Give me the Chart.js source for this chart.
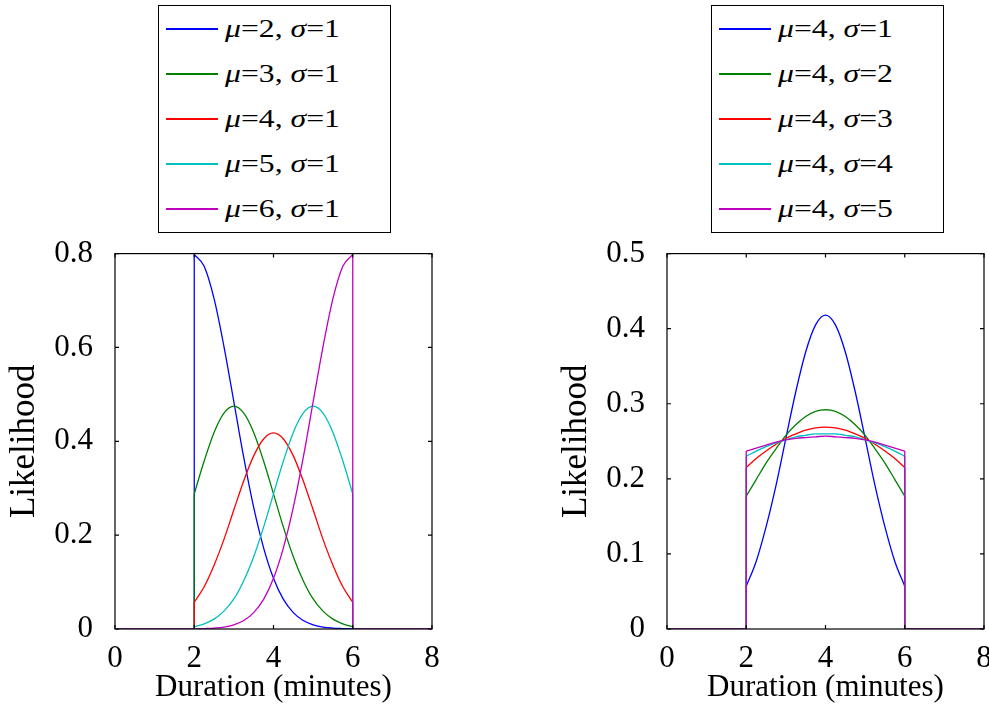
<!DOCTYPE html>
<html>
<head>
<meta charset="utf-8">
<script src="https://cdn.jsdelivr.net/npm/chart.js@4.4.0/dist/chart.umd.min.js"></script>
<style>
  body { margin: 0; background: #fff; overflow: hidden; }
  #page { position: relative; width: 989px; height: 710px; }
  .plot { position: absolute; top: 221px; height: 489px; }
  .legend { position: absolute; top: 5px; width: 231px; height: 226px; border: 1px solid #000; background: #fff; font-family: 'Liberation Serif', serif; color: #000; }
  .legend .row { position: absolute; left: 0; height: 44px; display: flex; align-items: center; }
  .legend .swatch { width: 52px; height: 1.6px; margin-left: 7px; }
  .legend .txt { margin-left: 7px; font-size: 26px; display: inline-block; transform: scaleX(1.22); transform-origin: left center; white-space: nowrap; }
</style>
</head>
<body>
<div id="page">
  <div class="legend" id="legLeft" style="left:158px"></div>
  <div class="legend" id="legRight" style="left:711px"></div>
  <div class="plot" style="left:0px;width:470px"><canvas id="chartLeft"></canvas></div>
  <div class="plot" style="left:552px;width:445px"><canvas id="chartRight"></canvas></div>
</div>
<script>
// durations sampled inside the [2, 6] window
var xs = [2, 2.25, 2.5, 2.75, 3, 3.25, 3.5, 3.75, 4, 4.25, 4.5, 4.75, 5, 5.25, 5.5, 5.75, 6];

// left panel: sigma = 1, mu varies
var leftMu = [2, 3, 4, 5, 6];
var leftSigma = [1, 1, 1, 1, 1];
var mu2 = [0.798, 0.773, 0.704, 0.602, 0.484, 0.365, 0.259, 0.173, 0.108, 0.063, 0.035, 0.018, 0.009, 0.004, 0.002, 0.001, 0.000];
var mu3 = [0.288, 0.358, 0.419, 0.460, 0.475, 0.460, 0.419, 0.358, 0.288, 0.217, 0.154, 0.103, 0.064, 0.038, 0.021, 0.011, 0.005];
var mu4 = [0.057, 0.090, 0.136, 0.191, 0.254, 0.316, 0.369, 0.405, 0.418, 0.405, 0.369, 0.316, 0.254, 0.191, 0.136, 0.090, 0.057];
var mu5 = [0.005, 0.011, 0.021, 0.038, 0.064, 0.103, 0.154, 0.217, 0.288, 0.358, 0.419, 0.460, 0.475, 0.460, 0.419, 0.358, 0.288];
var mu6 = [0.000, 0.001, 0.002, 0.004, 0.009, 0.018, 0.035, 0.063, 0.108, 0.173, 0.259, 0.365, 0.484, 0.602, 0.704, 0.773, 0.798];

// right panel: mu = 4, sigma varies
var rightMu = [4, 4, 4, 4, 4];
var rightSigma = [1, 2, 3, 4, 5];
var sig1 = [0.057, 0.090, 0.136, 0.191, 0.254, 0.316, 0.369, 0.405, 0.418, 0.405, 0.369, 0.316, 0.254, 0.191, 0.136, 0.090, 0.057];
var sig2 = [0.177, 0.199, 0.221, 0.240, 0.258, 0.272, 0.283, 0.290, 0.292, 0.290, 0.283, 0.272, 0.258, 0.240, 0.221, 0.199, 0.177];
var sig3 = [0.215, 0.227, 0.237, 0.246, 0.254, 0.260, 0.265, 0.268, 0.269, 0.268, 0.265, 0.260, 0.254, 0.246, 0.237, 0.227, 0.215];
var sig4 = [0.230, 0.237, 0.243, 0.248, 0.252, 0.256, 0.258, 0.260, 0.260, 0.260, 0.258, 0.256, 0.252, 0.248, 0.243, 0.237, 0.230];
var sig5 = [0.237, 0.241, 0.245, 0.249, 0.252, 0.254, 0.255, 0.256, 0.257, 0.256, 0.255, 0.254, 0.252, 0.249, 0.245, 0.241, 0.237];

var xTicks = [0, 2, 4, 6, 8];
var colors = ['#0000ff', '#008000', '#ff0000', '#00bfbf', '#bf00bf'];

Chart.defaults.font.family = "'Liberation Serif', 'Times New Roman', serif";
Chart.defaults.color = '#000';

// smooth part inside the window
function curvePoints(vals) {
  return xs.map(function (x, i) { return {x: x, y: vals[i]}; });
}

// zero outside the window plus the vertical jumps at both ends
function edgePoints(vals) {
  var a = xs[0], b = xs[xs.length - 1];
  return [
    {x: 0, y: 0}, {x: a, y: 0}, {x: a, y: vals[0]},
    {x: (a + b) / 2, y: null},
    {x: b, y: vals[vals.length - 1]}, {x: b, y: 0}, {x: 8, y: 0}
  ];
}

// matlab style box with inward ticks on all sides
var boxTicks = {
  id: 'boxTicks',
  afterDatasetsDraw: function (chart) {
    var a = chart.chartArea, ctx = chart.ctx;
    var sx = chart.scales.x, sy = chart.scales.y;
    ctx.save();
    ctx.strokeStyle = '#000';
    ctx.lineWidth = 1.2;
    ctx.strokeRect(a.left, a.top, a.right - a.left, a.bottom - a.top);
    ctx.beginPath();
    sx.ticks.forEach(function (t) {
      var px = sx.getPixelForValue(t.value);
      ctx.moveTo(px, a.bottom); ctx.lineTo(px, a.bottom - 4);
      ctx.moveTo(px, a.top); ctx.lineTo(px, a.top + 4);
    });
    sy.ticks.forEach(function (t) {
      var py = sy.getPixelForValue(t.value);
      ctx.moveTo(a.left, py); ctx.lineTo(a.left + 4, py);
      ctx.moveTo(a.right, py); ctx.lineTo(a.right - 4, py);
    });
    ctx.stroke();
    ctx.restore();
  }
};

function makeChart(id, series, mus, sigmas, yMax, yStep, padRight) {
  var datasets = [];
  series.forEach(function (vals, i) {
    datasets.push({
      label: '\u03bc=' + mus[i] + ', \u03c3=' + sigmas[i],
      data: curvePoints(vals),
      borderColor: colors[i],
      borderWidth: 1.3,
      pointRadius: 0,
      fill: false,
      cubicInterpolationMode: 'monotone',
      order: series.length - i
    });
    datasets.push({
      label: 'edge',
      data: edgePoints(vals),
      borderColor: colors[i],
      borderWidth: 1.3,
      pointRadius: 0,
      fill: false,
      tension: 0,
      spanGaps: false,
      order: series.length - i
    });
  });
  return new Chart(document.getElementById(id), {
    type: 'line',
    data: {datasets: datasets},
    options: {
      animation: false,
      responsive: true,
      maintainAspectRatio: false,
      layout: {padding: {top: 0, right: padRight, bottom: 0, left: 0}},
      plugins: {legend: {display: false}, tooltip: {enabled: false}},
      scales: {
        x: {
          type: 'linear', min: 0, max: 8,
          afterBuildTicks: function (s) { s.ticks = xTicks.map(function (v) { return {value: v}; }); },
          afterFit: function (s) { s.height = 81; },
          grid: {display: false},
          border: {display: false},
          ticks: {font: {size: 31}, padding: 3, maxRotation: 0},
          title: {display: true, text: 'Duration (minutes)', font: {size: 31}, padding: {top: 0, bottom: 4}}
        },
        y: {
          min: 0, max: yMax,
          afterFit: function (s) { s.width = 115; },
          grid: {display: false},
          border: {display: false},
          ticks: {stepSize: yStep, font: {size: 31}, padding: 14},
          title: {display: true, text: 'Likelihood', font: {size: 35}, padding: {top: 4, bottom: 0}}
        }
      }
    },
    plugins: [boxTicks]
  });
}

function buildLegend(chart, boxId, mus, sigmas) {
  var box = document.getElementById(boxId);
  chart.data.datasets.filter(function (ds) { return ds.label !== 'edge'; }).forEach(function (ds, i) {
    var row = document.createElement('div');
    row.className = 'row';
    row.style.top = (1 + 45 * i) + 'px';
    row.innerHTML = '<span class="swatch" style="background:' + ds.borderColor + '"></span>' +
      '<span class="txt"><i>\u03bc</i>=' + mus[i] + ', <i>\u03c3</i>=' + sigmas[i] + '</span>';
    box.appendChild(row);
  });
}

var left = makeChart('chartLeft', [mu2, mu3, mu4, mu5, mu6], leftMu, leftSigma, 0.8, 0.2, 38);
var right = makeChart('chartRight', [sig1, sig2, sig3, sig4, sig5], rightMu, rightSigma, 0.5, 0.1, 13);
buildLegend(left, 'legLeft', leftMu, leftSigma);
buildLegend(right, 'legRight', rightMu, rightSigma);
</script>
</body>
</html>
